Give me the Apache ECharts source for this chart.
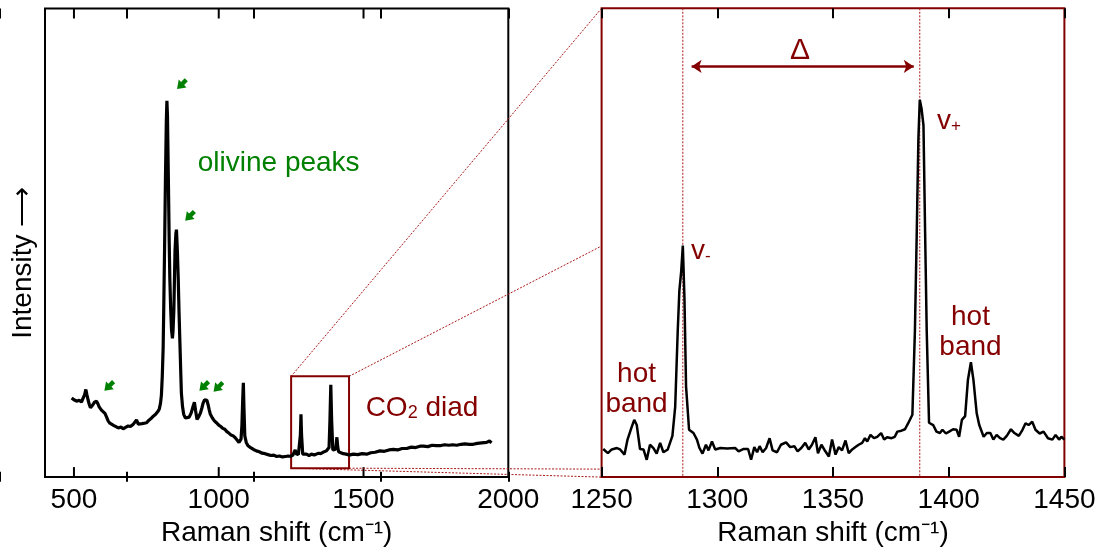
<!DOCTYPE html>
<html>
<head>
<meta charset="utf-8">
<script src="https://cdn.jsdelivr.net/npm/echarts@6/dist/echarts.min.js"></script>
<style>
  html, body { margin: 0; padding: 0; background: #fff; }
  #chart { width: 1107px; height: 552px; }
</style>
</head>
<body>
<div id="chart"></div>
<script>
// ---- Survey spectrum (olivine + CO2 diad), Raman shift in cm-1 vs. relative intensity
const spectrumShift = [
  492, 500, 509, 518, 526, 532, 537, 541, 545, 549, 553, 557, 561, 566, 571, 578, 583, 587, 591, 595,
  601, 607, 612, 618, 624, 630, 638, 647, 655, 662, 670, 678, 687, 695, 700, 705, 711, 716, 722, 728,
  735, 743, 751, 758, 766, 774, 782, 791, 795, 799, 802, 805, 808, 810, 813, 816, 819, 821, 823, 826,
  829, 831, 834, 837, 840, 842, 845, 847, 849, 852, 854, 857, 860, 863, 866, 869, 871, 875, 879, 885,
  891, 898, 905, 911, 916, 920, 925, 931, 937, 942, 946, 951, 955, 959, 963, 967, 971, 978, 985, 992,
  1000, 1007, 1014, 1021, 1028, 1035, 1042, 1050, 1057, 1063, 1070, 1074, 1077, 1080, 1083, 1085, 1087, 1090, 1095, 1101,
  1110, 1120, 1130, 1140, 1150, 1160, 1170, 1180, 1190, 1200, 1210, 1220, 1230, 1240, 1248, 1256, 1261, 1264, 1267, 1271,
  1275, 1279, 1282, 1284, 1286, 1290, 1296, 1303, 1312, 1320, 1330, 1337, 1345, 1352, 1360, 1366, 1372, 1377, 1381, 1384,
  1387, 1390, 1394, 1398, 1402, 1405, 1408, 1411, 1414, 1420, 1430, 1440, 1450, 1465, 1480, 1495, 1511, 1525, 1540, 1557,
  1572, 1588, 1603, 1618, 1633, 1649, 1665, 1680, 1695, 1707, 1722, 1737, 1750, 1764, 1780, 1795, 1808, 1822, 1837, 1850,
  1865, 1879, 1893, 1908, 1925, 1935, 1942
];
const spectrumIntensity = [
  16.9, 16.5, 16.2, 16.4, 16.0, 16.9, 17.6, 18.7, 17.5, 16.4, 15.5, 14.8, 15.2, 15.5, 16.0, 16.2, 15.6, 15.0, 14.8, 14.3,
  14.0, 13.6, 12.9, 12.0, 11.5, 11.2, 11.0, 10.7, 10.5, 10.7, 10.3, 10.6, 10.9, 10.8, 11.2, 11.3, 11.2, 12.2, 11.3, 11.2,
  11.4, 11.5, 11.6, 12.1, 12.5, 13.0, 13.4, 14.1, 14.6, 15.8, 17.5, 21.5, 27.5, 35.6, 49.0, 63.8, 76.0, 80.3, 77.0, 63.8,
  50.0, 42.6, 36.0, 31.4, 29.6, 31.0, 35.6, 42.0, 48.3, 52.0, 52.8, 48.5, 42.6, 35.0, 28.5, 22.0, 17.9, 15.0, 13.4, 12.6,
  12.3, 12.8, 13.7, 15.0, 16.0, 14.2, 12.3, 12.9, 13.7, 14.8, 15.8, 16.5, 16.9, 16.4, 15.5, 14.4, 13.4, 12.6, 12.0, 11.6,
  11.1, 10.8, 10.4, 10.2, 9.7, 9.4, 9.0, 8.8, 8.4, 8.0, 7.4, 7.6, 8.1, 11.0, 17.0, 20.1, 15.0, 8.8, 7.4, 6.7,
  6.3, 5.9, 5.6, 5.4, 5.1, 5.0, 4.8, 4.6, 4.7, 4.4, 4.5, 4.3, 4.4, 4.5, 4.4, 4.7, 5.0, 5.8, 5.0, 4.6,
  4.8, 5.0, 9.0, 13.4, 9.0, 4.9, 4.7, 4.9, 4.6, 4.9, 4.7, 4.9, 5.1, 5.0, 5.3, 5.4, 5.6, 5.9, 6.3, 12.0,
  19.7, 12.0, 5.8, 5.6, 5.9, 6.5, 8.5, 6.4, 5.4, 5.3, 5.0, 4.9, 4.7, 4.9, 4.8, 5.0, 4.9, 5.2, 5.3, 5.6,
  5.5, 5.8, 5.9, 5.8, 6.1, 6.1, 6.4, 6.3, 6.6, 6.6, 6.5, 6.8, 6.7, 6.7, 6.9, 6.8, 6.9, 6.8, 7.0, 7.1,
  7.0, 7.0, 7.2, 7.3, 7.4, 7.7, 7.3
];

// ---- Detail of the CO2 Fermi diad (1250-1450 cm-1)
const diadShift = [
  1250.7, 1252.7, 1254.4, 1256.6, 1258.0, 1259.9, 1261.2, 1262.8, 1264.1, 1265.2, 1266.6, 1268.1, 1269.5, 1270.9, 1272.4,
  1273.8, 1275.3, 1276.7, 1278.6, 1280.6, 1281.8, 1282.9, 1283.6, 1284.4, 1285.1, 1285.8, 1286.5, 1287.8, 1289.7, 1291.2,
  1292.3, 1293.6, 1295.1, 1296.2, 1297.7, 1299.1, 1301.3, 1304.2, 1307.8, 1309.2, 1311.4, 1313.3, 1314.6, 1316.0, 1317.2,
  1318.3, 1319.6, 1321.1, 1322.6, 1323.9, 1325.8, 1327.5, 1329.7, 1331.5, 1333.3, 1334.7, 1336.3, 1338.0, 1339.5, 1340.9,
  1342.4, 1343.5, 1345.0, 1346.7, 1348.2, 1349.6, 1351.1, 1352.5, 1353.9, 1355.4, 1356.8, 1358.3, 1359.7, 1361.1, 1362.6,
  1363.8, 1364.8, 1366.2, 1367.7, 1369.1, 1370.8, 1372.1, 1373.4, 1375.3, 1376.7, 1377.8, 1379.6, 1381.1, 1382.5, 1384.3,
  1385.4, 1386.2, 1386.9, 1387.5, 1388.3, 1389.1, 1389.8, 1390.5, 1391.5, 1393.3, 1394.7, 1396.2, 1397.3, 1398.8, 1400.2,
  1401.9, 1403.4, 1404.5, 1405.7, 1407.1, 1408.3, 1409.6, 1410.7, 1412.1, 1413.2, 1415.1, 1416.5, 1418.0, 1419.3, 1420.7,
  1422.2, 1423.6, 1425.1, 1426.9, 1428.4, 1430.3, 1431.7, 1433.2, 1434.5, 1436.1, 1437.5, 1439.3, 1441.0, 1442.9, 1444.8,
  1446.2, 1447.7, 1448.7, 1450.0
];
const diadIntensity = [
  6.0, 5.1, 5.9, 6.2, 5.9, 4.8, 8.0, 10.4, 12.2, 11.1, 6.0, 5.9, 3.7, 6.9, 6.2,
  5.0, 7.3, 5.3, 5.9, 8.8, 15.0, 31.2, 39.7, 43.9, 49.4, 38.3, 19.3, 10.1, 9.4, 8.0,
  6.2, 5.0, 6.9, 5.7, 7.6, 5.9, 6.2, 6.1, 6.2, 5.5, 6.0, 6.0, 3.7, 6.4, 5.3,
  6.6, 5.3, 6.2, 8.3, 5.7, 5.3, 6.9, 7.4, 6.4, 6.6, 5.5, 6.2, 7.3, 5.9, 6.9,
  8.5, 5.1, 6.9, 5.5, 4.4, 8.0, 4.8, 6.4, 5.7, 7.8, 5.1, 5.9, 6.4, 6.9, 7.3,
  8.3, 7.6, 9.0, 8.3, 8.6, 9.4, 8.0, 8.5, 8.3, 8.6, 9.7, 9.9, 10.2, 11.5, 13.3,
  31.2, 52.4, 72.1, 80.5, 78.5, 75.0, 52.4, 31.2, 11.6, 11.1, 9.7, 9.4, 10.1, 9.3, 9.7,
  10.2, 10.1, 8.6, 12.2, 13.0, 20.7, 24.5, 20.7, 13.6, 11.1, 8.6, 9.4, 9.4, 8.0, 9.0,
  8.3, 8.0, 8.8, 10.2, 9.4, 8.8, 9.9, 11.5, 11.1, 11.8, 10.1, 9.3, 9.7, 8.3, 8.0,
  9.0, 8.0, 8.6, 8.0
];

// Diad band positions (v-, v+) and the zoomed window on the survey spectrum
const diadPeakShift = [1285.1, 1387.5];
const diadWindowShift = [1250, 1450];
const diadWindowLevel = [1.9, 21.5];

// Olivine peaks pointed out with arrows
const olivineArrowShift = [872, 900, 621, 949, 998];
const olivineArrowLevel = [83.8, 55.7, 19.4, 19.4, 19.2];

// Axis tick labels
const surveyTicks = [500, 1000, 1500, 2000];
const diadTicks = [1250, 1300, 1350, 1400, 1450];

const FONT = '"Liberation Sans", Arial, Helvetica, sans-serif';
const DARKRED = '#840000';
const MARKER_RED = '#a81818';
const GREEN = '#008000';
const AXIS_NAME = 'Raman shift (cm\u207B\u00B9)';

const surveyRange = [400, 2000];
const diadRange = [1250, 1450];
const LEVEL_MAX = 100;

// Panel frames (px)
const SURVEY_BOX = { left: 45, top: 8.5, width: 463.3, height: 473.2 };
const DIAD_BOX = { left: 601.6, top: 8.3, width: 462.8, height: 472.7 };
// Tick scale for the survey frame: same px-per-unit, but starting at 0 so a 500 step lands on 500, 1000, 1500
const pxPerUnit = SURVEY_BOX.width / (surveyRange[1] - surveyRange[0]);
const SURVEY_TICK_BOX = {
  left: SURVEY_BOX.left - surveyRange[0] * pxPerUnit, top: SURVEY_BOX.top,
  width: surveyRange[1] * pxPerUnit, height: SURVEY_BOX.height
};

const chart = echarts.init(document.getElementById('chart'), null, { renderer: 'canvas' });

const tickStyle = { show: true, inside: true, length: 10, lineStyle: { color: '#000', width: 2 } };

function bottomAxis(gridIndex, range, labels, edgeColor, interval) {
  const axis = {
    type: 'value', gridIndex: gridIndex, position: 'bottom',
    min: range[0], max: range[1],
    axisLine: { show: true, lineStyle: { color: edgeColor, width: 2 } },
    splitLine: { show: false },
    axisTick: interval ? tickStyle : { show: false },
    axisLabel: { show: true, customValues: labels, margin: 9,
      fontSize: 28, fontFamily: FONT, color: '#000',
      formatter: v => String(v) },
    name: AXIS_NAME, nameLocation: 'middle', nameGap: 36,
    nameTextStyle: { fontSize: 28, fontFamily: FONT, color: '#000' }
  };
  if (interval) axis.interval = interval;
  return axis;
}
function tickOnlyAxis(gridIndex, position, min, max, interval) {
  return {
    type: 'value', gridIndex: gridIndex, position: position,
    min: min, max: max, interval: interval,
    axisLine: { show: false }, splitLine: { show: false },
    axisLabel: { show: false }, axisTick: tickStyle
  };
}

chart.setOption({
  animation: false,
  grid: [
    Object.assign({ show: true, borderColor: '#000', borderWidth: 2 }, SURVEY_BOX),
    Object.assign({ show: true, borderColor: DARKRED, borderWidth: 2 }, DIAD_BOX),
    Object.assign({ show: false }, SURVEY_TICK_BOX)
  ],
  xAxis: [
    bottomAxis(0, surveyRange, surveyTicks, '#000', 0),
    bottomAxis(1, diadRange, diadTicks, DARKRED, 50),
    tickOnlyAxis(1, 'top', diadRange[0], diadRange[1], 50),
    tickOnlyAxis(2, 'bottom', 0, surveyRange[1], 500),
    tickOnlyAxis(2, 'top', 0, surveyRange[1], 500)
  ],
  yAxis: [
    { type: 'value', gridIndex: 0, min: 0, max: LEVEL_MAX,
      axisLine: { show: false }, axisTick: { show: false }, axisLabel: { show: false },
      splitLine: { show: false },
      name: 'Intensity \u27F6', nameLocation: 'middle', nameRotate: 90, nameGap: 8,
      nameTextStyle: { fontSize: 28, fontFamily: FONT, color: '#000', padding: [0, 40, 0, 0] } },
    { type: 'value', gridIndex: 1, min: 0, max: LEVEL_MAX, show: false },
    { type: 'value', gridIndex: 2, min: 0, max: LEVEL_MAX, show: false }
  ],
  series: [
    {
      type: 'line', xAxisIndex: 0, yAxisIndex: 0,
      data: spectrumShift.map((x, i) => [x, spectrumIntensity[i]]),
      showSymbol: false, symbol: 'none', silent: true,
      lineStyle: { color: '#000', width: 3.2 },
      markArea: {
        silent: true,
        itemStyle: { color: 'rgba(0,0,0,0)', borderColor: DARKRED, borderWidth: 2 },
        label: { show: false },
        data: [[
          { xAxis: diadWindowShift[0], yAxis: diadWindowLevel[0] },
          { xAxis: diadWindowShift[1], yAxis: diadWindowLevel[1] }
        ]]
      }
    },
    {
      type: 'scatter', xAxisIndex: 0, yAxisIndex: 0, silent: true,
      data: olivineArrowShift.map((x, i) => [x, olivineArrowLevel[i]]),
      symbol: 'path://M5,0 L10,6 L7,6 L7,10 L3,10 L3,6 L0,6 Z',
      symbolSize: [11, 13], symbolRotate: 135,
      itemStyle: { color: GREEN, opacity: 1 }
    },
    {
      type: 'line', xAxisIndex: 1, yAxisIndex: 1,
      data: diadShift.map((x, i) => [x, diadIntensity[i]]),
      showSymbol: false, symbol: 'none', silent: true,
      lineStyle: { color: '#000', width: 2.5 },
      markLine: {
        silent: true, symbol: 'none', animation: false,
        label: { show: false },
        data: [
          [
            { coord: [diadPeakShift[0] + 3.8, 87.6], symbol: 'arrow', symbolSize: [10, 10],
              lineStyle: { color: DARKRED, width: 2.5, type: 'solid' } },
            { coord: [diadPeakShift[1] - 2.6, 87.6], symbol: 'arrow', symbolSize: [10, 10] }
          ]
        ]
      }
    }
  ]
});

// Frame ticks, band markers, zoom links and labels, placed through the axes' coordinate conversion
const toPx = (g, x, y) => chart.convertToPixel({ gridIndex: g }, [x, y]);
const dotted = { stroke: MARKER_RED, lineWidth: 1, lineDash: [2, 1.5] };
function segment(a, b, style) {
  return { type: 'line', shape: { x1: a[0], y1: a[1], x2: b[0], y2: b[1] }, style: style };
}
function label(p, text, fill, extra) {
  return { type: 'text', x: p[0], y: p[1],
    style: Object.assign({ text: text, fill: fill, fontSize: 28, fontFamily: FONT,
      align: 'center', verticalAlign: 'middle' }, extra || {}) };
}
function frameTicks(g, range, labels) {
  const out = [];
  labels.filter(v => v > range[0] && v < range[1]).forEach(v => {
    const top = toPx(g, v, LEVEL_MAX), bot = toPx(g, v, 0);
    out.push({ type: 'rect', shape: { x: top[0] - 1, y: top[1], width: 2, height: 10 },
      style: { fill: '#000' } });
    out.push({ type: 'rect', shape: { x: bot[0] - 1, y: bot[1] - 10, width: 2, height: 10 },
      style: { fill: '#000' } });
  });
  return out;
}
function bandMarker(shift) {
  const top = toPx(1, shift, LEVEL_MAX), bot = toPx(1, shift, 0);
  return segment([top[0], top[1]], [bot[0], bot[1]], dotted);
}

const winTL = toPx(0, diadWindowShift[0], diadWindowLevel[1]);
const winTR = toPx(0, diadWindowShift[1], diadWindowLevel[1]);
const winBL = toPx(0, diadWindowShift[0], diadWindowLevel[0]);
const winBR = toPx(0, diadWindowShift[1], diadWindowLevel[0]);

const richV = {
  v: { fontSize: 28, fontFamily: FONT, fill: DARKRED },
  s: { fontSize: 17, fontFamily: FONT, fill: DARKRED, lineHeight: 23, verticalAlign: 'bottom' }
};

chart.setOption({
  graphic: [].concat(
    frameTicks(0, surveyRange, surveyTicks),
    diadPeakShift.map(bandMarker),
    [
      segment(winTL, toPx(1, diadRange[0], LEVEL_MAX), dotted),
      segment(winTR, toPx(1, diadRange[0], 49.3), dotted),
      segment(winBL, toPx(1, diadRange[0], 0), dotted),
      segment(winBR, toPx(1, diadRange[0], 1.7), dotted),
      label(toPx(0, 1207, 67.0), 'olivine peaks', GREEN),
      label(toPx(0, 1702, 14.7), '{a|CO}{s|2}{a| diad}', DARKRED, {
        rich: {
          a: { fontSize: 28, fontFamily: FONT, fill: DARKRED },
          s: { fontSize: 18, fontFamily: FONT, fill: DARKRED, verticalAlign: 'bottom' }
        }
      }),
      label(toPx(1, 1335.7, 91.0), '\u0394', DARKRED, { fontSize: 30 }),
      label(toPx(1, 1288.6, 48.2), '{v|v}{s|-}', DARKRED, { align: 'left', rich: richV }),
      label(toPx(1, 1394.9, 75.9), '{v|v}{s|+}', DARKRED, { align: 'left', rich: richV }),
      label(toPx(1, 1265.1, 18.8), 'hot\nband', DARKRED, { lineHeight: 30 }),
      label(toPx(1, 1409.4, 30.9), 'hot\nband', DARKRED, { lineHeight: 30 })
    ]
  )
});
</script>
</body>
</html>
